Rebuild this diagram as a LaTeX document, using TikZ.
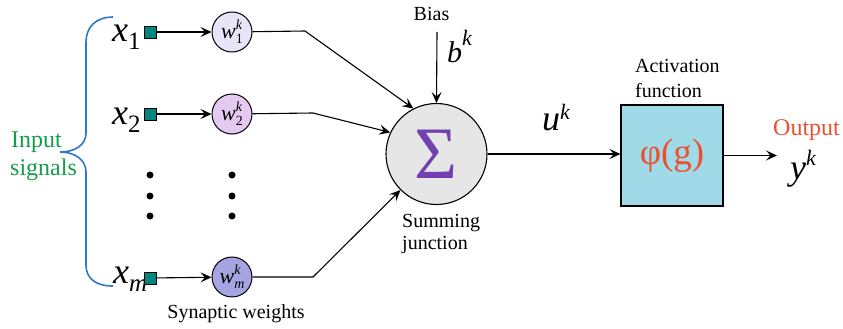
\documentclass[tikz,border=0pt]{standalone}
\usepackage{fontspec}
\setmainfont{Liberation Serif}
\usetikzlibrary{arrows.meta}
\definecolor{sqteal}{RGB}{0,135,125}
\definecolor{wone}{RGB}{230,230,248}
\definecolor{wtwo}{RGB}{228,202,240}
\definecolor{wm}{RGB}{165,165,225}
\definecolor{sigfill}{RGB}{230,230,230}
\definecolor{sigpurple}{RGB}{115,65,175}
\definecolor{boxblue}{RGB}{160,218,232}
\definecolor{redorange}{RGB}{232,82,48}
\definecolor{ingreen}{RGB}{20,155,75}
\definecolor{braceblue}{RGB}{45,120,200}
\newcommand\fs[1]{\fontsize{#1}{#1}\selectfont}
\newcommand\xlab[2]{{\fs{36}\itshape x}\kern#2\raisebox{-8pt}{\fs{25}#1}}
\newcommand\wlab[1]{{\fs{22}\itshape w}\rlap{\raisebox{9pt}{\fs{14}\itshape k}}\raisebox{-5pt}{\fs{14}#1}}
\newcommand\supk[3]{{\fs{#1}\itshape #2}\raisebox{#3}{\fs{22}\itshape k}}
\begin{document}
\begin{tikzpicture}[x=1pt,y=-1pt,
  arr/.style={line width=1.1pt,-{Stealth[length=11pt,width=10pt,inset=4.5pt]}},
  sqbox/.style={rectangle,draw=black,line width=0.8pt,fill=sqteal,minimum size=12pt,inner sep=0},
  wcirc/.style={circle,draw=black,line width=1pt,minimum size=40pt,inner sep=0},
  lab/.style={inner sep=0,anchor=base west},
  dot/.style={circle,fill=black,minimum size=7pt,inner sep=0}]
\path[use as bounding box] (0,0) rectangle (843,329);

% brace
\draw[braceblue,line width=1.6pt] (113,17) .. controls (95,17) and (86,28) .. (86,42) -- (86,133)
  .. controls (86,145) and (75,152) .. (60,152) .. controls (75,152) and (86,160) .. (86,172)
  -- (86,265) .. controls (86,278) and (95,286) .. (113,286);
\node[lab,text=ingreen] (in1) at (11,147) {\fs{24}Input};
\node[lab,text=ingreen] (in2) at (10,175) {\fs{24}signals};

% inputs
\node[lab] (x1) at (112,42) {\xlab{1}{0pt}};
\node[lab] (x2) at (112,124) {\xlab{2}{0pt}};
\node[lab] (xm) at (113,283) {\xlab{\itshape m}{0pt}};

\node[sqbox] (s1) at (150,32) {};
\node[sqbox] (s2) at (150,114) {};
\node[sqbox] (sm) at (150,278) {};

\node[wcirc,fill=wone] (w1) at (232,32) {\wlab{1}};
\node[wcirc,fill=wtwo] (w2) at (232,114) {\wlab{2}};
\node[wcirc,fill=wm] (wmm) at (232,277) {\wlab{\itshape m}};

\draw[arr] (s1) -- (w1);
\draw[arr] (s2) -- (w2);
\draw[arr] (sm) -- (wmm);

% dots
\foreach \yy [count=\i] in {175,196,216}{
  \node[dot] (da\i) at (150,\yy) {};
  \node[dot] (db\i) at (232,\yy) {};
}

\node[lab,anchor=base] (syn) at (236,318) {\fs{20}Synaptic weights};

% summing junction
\node[circle,draw=black,line width=1.1pt,fill=sigfill,minimum size=101pt,inner sep=0,text=sigpurple] (sig) at (436.5,154) {\fs{74}Σ};
\node[lab] (sum1) at (402,227) {\fs{20}Summing};
\node[lab] (sum2) at (402,249) {\fs{20}junction};

\coordinate (c1) at (305,31);
\coordinate (c2) at (313,113);
\coordinate (cm) at (313,277);
\draw[arr] (w1) -- (c1) -- (sig.117);
\draw[arr] (w2) -- (c2) -- (sig.155);
\draw[arr] (wmm) -- (cm) -- (sig.225);

% bias
\node[lab,anchor=base] (bias) at (431.5,21) {\fs{20}Bias};
\coordinate (btop) at (437,32);
\draw[arr] (btop) -- (sig.north);
\node[lab] (bk) at (447,63) {\supk{30}{b}{17pt}};

% activation
\node[rectangle,draw=black,line width=1.1pt,fill=boxblue,minimum width=102pt,minimum height=101pt,inner sep=0,text=redorange] (act) at (672,155.5) {\fs{37}φ(g)};
\node[lab] (act1) at (635,73) {\fs{20}Activation};
\node[lab] (act2) at (635,97) {\fs{20}function};
\draw[arr] (sig.east) -- (sig.east -| act.west);
\node[lab] (uk) at (542,130) {\supk{36}{u}{11pt}};

\coordinate (yout) at (777,155.5);
\draw[arr] (act.east) -- (yout);
\node[lab,text=redorange] (outp) at (773,135) {\fs{24}Output};
\node[lab] (yk) at (790,179) {\supk{36}{y}{14pt}};
\end{tikzpicture}
\end{document}
